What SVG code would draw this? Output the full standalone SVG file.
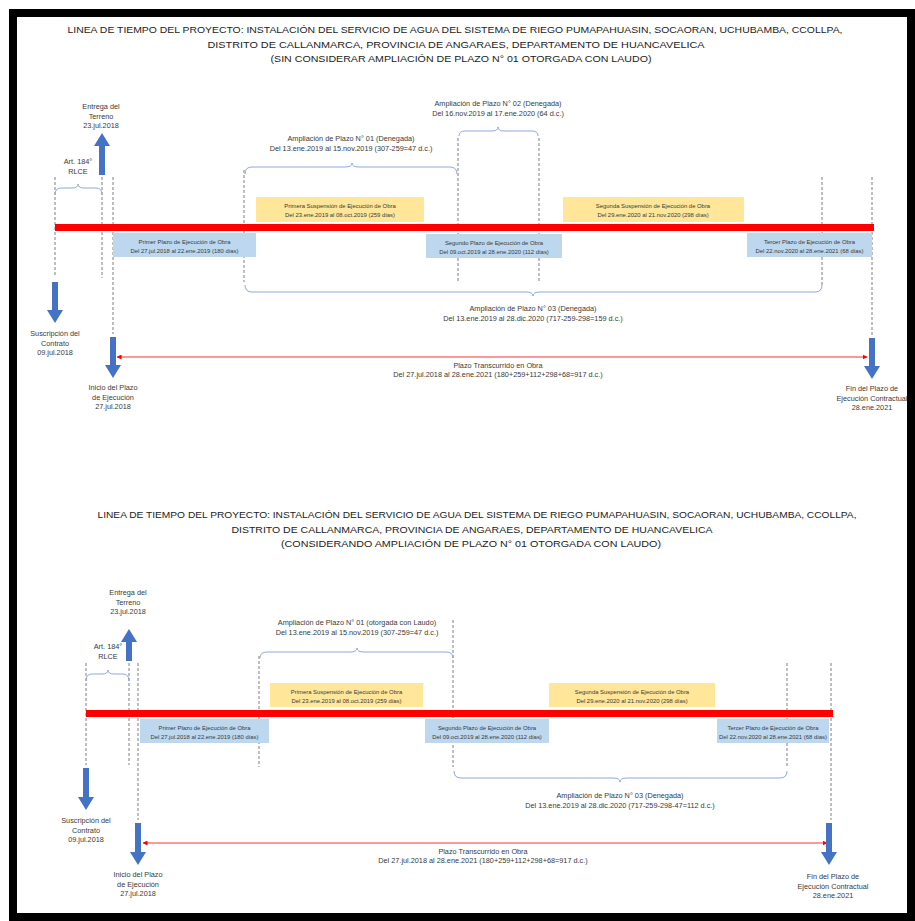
<svg xmlns="http://www.w3.org/2000/svg" width="915" height="921" viewBox="0 0 915 921">
<style>
text{font-family:"Liberation Sans",Arial,sans-serif;fill:#3a3a3a;text-anchor:middle}
.title{font-size:9.6px;fill:#222}
.lbl{font-size:7.3px}
.box{font-size:5.9px}
.dash{stroke:#7f7f7f;stroke-width:1;stroke-dasharray:3,2;fill:none}
.brace{stroke:#8fa9d6;stroke-width:1;fill:none}
.bar{fill:#ff0000}
.blue{fill:#bdd7ee}
.yel{fill:#ffe699}
.arr{fill:#4472c4}
.span{stroke:#ff3030;stroke-width:1;fill:none}
</style>
<defs>
<marker id="ah" viewBox="0 0 10 10" refX="9" refY="5" markerWidth="5" markerHeight="5" orient="auto-start-reverse">
<path d="M0,0 L10,5 L0,10 Z" fill="#ff0000"/>
</marker>
</defs>
<rect x="0" y="0" width="915" height="921" fill="#fff"/>
<rect x="13" y="13" width="898" height="904" fill="none" stroke="#000" stroke-width="8"/>

<!-- ================= PANEL 1 ================= -->
<g id="title1">
<text class="title" x="455" y="33" textLength="775" lengthAdjust="spacingAndGlyphs">LINEA DE TIEMPO DEL PROYECTO: INSTALACIÓN DEL SERVICIO DE AGUA DEL SISTEMA DE RIEGO PUMAPAHUASIN, SOCAORAN, UCHUBAMBA, CCOLLPA,</text>
<text class="title" x="456" y="48" textLength="497" lengthAdjust="spacingAndGlyphs">DISTRITO DE CALLANMARCA, PROVINCIA DE ANGARAES, DEPARTAMENTO DE HUANCAVELICA</text>
<text class="title" x="461" y="62" textLength="381" lengthAdjust="spacingAndGlyphs">(SIN CONSIDERAR AMPLIACIÓN DE PLAZO N° 01 OTORGADA CON LAUDO)</text>
</g>

<g id="connectors1">
<line class="dash" x1="55" y1="177" x2="55" y2="276"/>
<line class="dash" x1="102" y1="177" x2="102" y2="278"/>
<line class="dash" x1="113" y1="177" x2="113" y2="334"/>
<line class="dash" x1="244" y1="170" x2="244" y2="282"/>
<line class="dash" x1="458" y1="138" x2="458" y2="282"/>
<line class="dash" x1="539" y1="138" x2="539" y2="282"/>
<line class="dash" x1="822" y1="177" x2="822" y2="285"/>
<line class="dash" x1="872" y1="177" x2="872" y2="336"/>
<path class="brace" d="M55,195 Q55,188 61,188 L72,188 Q78,188 78,184 Q78,188 84,188 L96,188 Q102,188 102,195"/>
<path class="brace" d="M245,174 Q245,167 252,167 L345,167 Q352,167 352,163 Q352,167 359,167 L450,167 Q457,167 457,174"/>
<path class="brace" d="M459,136 Q459,131 465,131 L492,131 Q498,131 498,127 Q498,131 504,131 L532,131 Q538,131 538,136"/>
<path class="brace" d="M245,285 Q245,292 252,292 L526,292 Q533,292 533,296 Q533,292 540,292 L815,292 Q822,292 822,285"/>
<line class="span" x1="117" y1="357" x2="867" y2="357" marker-start="url(#ah)" marker-end="url(#ah)"/>
</g>

<g id="bar1"><rect class="bar" x="55" y="224" width="819" height="7"/></g>

<g id="primer1">
<rect class="blue" x="113" y="233" width="143" height="24"/>
<text class="box" x="184.5" y="244">Primer Plazo de Ejecución de Obra</text>
<text class="box" x="184.5" y="252.5">Del 27.jul.2018 al 22.ene.2019 (180 días)</text>
</g>
<g id="segundo1">
<rect class="blue" x="426" y="234" width="136" height="24"/>
<text class="box" x="494" y="245">Segundo Plazo de Ejecución de Obra</text>
<text class="box" x="494" y="253.5">Del 09.oct.2019 al 28.ene.2020 (112 días)</text>
</g>
<g id="tercer1">
<rect class="blue" x="747" y="233" width="125" height="24"/>
<text class="box" x="809.5" y="244">Tercer Plazo de Ejecución de Obra</text>
<text class="box" x="809.5" y="252.5">Del 22.nov.2020 al 28.ene.2021 (68 días)</text>
</g>
<g id="susp1a">
<rect class="yel" x="256" y="197" width="168" height="25"/>
<text class="box" x="340" y="208">Primera Suspensión de Ejecución de Obra</text>
<text class="box" x="340" y="216.5">Del 23.ene.2019 al 08.oct.2019 (259 días)</text>
</g>
<g id="susp1b">
<rect class="yel" x="563" y="197" width="181" height="25"/>
<text class="box" x="653" y="208">Segunda Suspensión de Ejecución de Obra</text>
<text class="box" x="653" y="216.5">Del 29.ene.2020 al 21.nov.2020 (298 días)</text>
</g>

<g id="entrega1">
<path class="arr" d="M99,175 V146 H94 L102,133 L110,146 H105 V175 Z"/>
<text class="lbl" x="101" y="109">Entrega del</text>
<text class="lbl" x="101" y="118.5">Terreno</text>
<text class="lbl" x="101" y="128">23.jul.2018</text>
</g>
<g id="art1">
<text class="lbl" x="78" y="164">Art. 184°</text>
<text class="lbl" x="78" y="173.5">RLCE</text>
</g>
<g id="amp01_1">
<text class="lbl" x="351" y="141">Ampliación de Plazo N° 01 (Denegada)</text>
<text class="lbl" x="351" y="151">Del 13.ene.2019 al 15.nov.2019 (307-259=47 d.c.)</text>
</g>
<g id="amp02_1">
<text class="lbl" x="498" y="106">Ampliación de Plazo N° 02 (Denegada)</text>
<text class="lbl" x="498" y="115.5">Del 16.nov.2019 al 17.ene.2020 (64 d.c.)</text>
</g>
<g id="amp03_1">
<text class="lbl" x="533" y="311">Ampliación de Plazo N° 03 (Denegada)</text>
<text class="lbl" x="533" y="321">Del 13.ene.2019 al 28.dic.2020 (717-259-298=159 d.c.)</text>
</g>
<g id="suscripcion1">
<path class="arr" d="M52,282 V310 H47 L55,323 L63,310 H58 V282 Z"/>
<text class="lbl" x="55" y="336">Suscripción del</text>
<text class="lbl" x="55" y="345.5">Contrato</text>
<text class="lbl" x="55" y="355">09.jul.2018</text>
</g>
<g id="inicio1">
<path class="arr" d="M110,337 V365 H105 L113,378 L121,365 H116 V337 Z"/>
<text class="lbl" x="113" y="390">Inicio del Plazo</text>
<text class="lbl" x="113" y="399.5">de Ejecución</text>
<text class="lbl" x="113" y="409">27.jul.2018</text>
</g>
<g id="plazo1">
<text class="lbl" x="498" y="368">Plazo Transcurrido en Obra</text>
<text class="lbl" x="498" y="377">Del 27.jul.2018 al 28.ene.2021 (180+259+112+298+68=917 d.c.)</text>
</g>
<g id="fin1">
<path class="arr" d="M869,338 V366 H864 L872,379 L880,366 H875 V338 Z"/>
<text class="lbl" x="872" y="391">Fin del Plazo de</text>
<text class="lbl" x="872" y="400.5">Ejecución Contractual</text>
<text class="lbl" x="872" y="410">28.ene.2021</text>
</g>

<!-- ================= PANEL 2 ================= -->
<g id="title2">
<text class="title" x="477" y="518" textLength="759" lengthAdjust="spacingAndGlyphs">LINEA DE TIEMPO DEL PROYECTO: INSTALACIÓN DEL SERVICIO DE AGUA DEL SISTEMA DE RIEGO PUMAPAHUASIN, SOCAORAN, UCHUBAMBA, CCOLLPA,</text>
<text class="title" x="472" y="533" textLength="481" lengthAdjust="spacingAndGlyphs">DISTRITO DE CALLANMARCA, PROVINCIA DE ANGARAES, DEPARTAMENTO DE HUANCAVELICA</text>
<text class="title" x="471" y="547" textLength="380" lengthAdjust="spacingAndGlyphs">(CONSIDERANDO AMPLIACIÓN DE PLAZO N° 01 OTORGADA CON LAUDO)</text>
</g>

<g id="connectors2">
<line class="dash" x1="86" y1="663" x2="86" y2="765"/>
<line class="dash" x1="129" y1="663" x2="129" y2="765"/>
<line class="dash" x1="138" y1="663" x2="138" y2="820"/>
<line class="dash" x1="259" y1="656" x2="259" y2="767"/>
<line class="dash" x1="453" y1="620" x2="453" y2="767"/>
<line class="dash" x1="787" y1="663" x2="787" y2="767"/>
<line class="dash" x1="831" y1="663" x2="831" y2="820"/>
<path class="brace" d="M86,681 Q86,674 92,674 L102,674 Q108,674 108,670 Q108,674 114,674 L123,674 Q129,674 129,681"/>
<path class="brace" d="M260,658 Q260,652 267,652 L350,652 Q357,652 357,648 Q357,652 364,652 L446,652 Q453,652 453,658"/>
<path class="brace" d="M454,771 Q454,778 461,778 L613,778 Q620,778 620,782 Q620,778 627,778 L780,778 Q787,778 787,771"/>
<line class="span" x1="143" y1="843" x2="827" y2="843" marker-start="url(#ah)" marker-end="url(#ah)"/>
</g>

<g id="bar2"><rect class="bar" x="86" y="710" width="747" height="7"/></g>

<g id="primer2">
<rect class="blue" x="140" y="719" width="129" height="24"/>
<text class="box" x="204.5" y="730">Primer Plazo de Ejecución de Obra</text>
<text class="box" x="204.5" y="738.5">Del 27.jul.2018 al 22.ene.2019 (180 días)</text>
</g>
<g id="segundo2">
<rect class="blue" x="425" y="719" width="124" height="24"/>
<text class="box" x="487" y="730">Segundo Plazo de Ejecución de Obra</text>
<text class="box" x="487" y="738.5">Del 09.oct.2019 al 28.ene.2020 (112 días)</text>
</g>
<g id="tercer2">
<rect class="blue" x="717" y="719" width="112" height="24"/>
<text class="box" x="773" y="730">Tercer Plazo de Ejecución de Obra</text>
<text class="box" x="773" y="738.5">Del 22.nov.2020 al 28.ene.2021 (68 días)</text>
</g>
<g id="susp2a">
<rect class="yel" x="270" y="683" width="153" height="24"/>
<text class="box" x="346.5" y="694">Primera Suspensión de Ejecución de Obra</text>
<text class="box" x="346.5" y="702.5">Del 23.ene.2019 al 08.oct.2019 (259 días)</text>
</g>
<g id="susp2b">
<rect class="yel" x="549" y="683" width="166" height="24"/>
<text class="box" x="632" y="694">Segunda Suspensión de Ejecución de Obra</text>
<text class="box" x="632" y="702.5">Del 29.ene.2020 al 21.nov.2020 (298 días)</text>
</g>

<g id="entrega2">
<path class="arr" d="M126,661 V642 H121 L129,629 L137,642 H132 V661 Z"/>
<text class="lbl" x="128" y="595">Entrega del</text>
<text class="lbl" x="128" y="604.5">Terreno</text>
<text class="lbl" x="128" y="614">23.jul.2018</text>
</g>
<g id="art2">
<text class="lbl" x="108" y="649">Art. 184°</text>
<text class="lbl" x="108" y="658.5">RLCE</text>
</g>
<g id="amp01_2">
<text class="lbl" x="357" y="625">Ampliación de Plazo N° 01 (otorgada con Laudo)</text>
<text class="lbl" x="357" y="635">Del 13.ene.2019 al 15.nov.2019 (307-259=47 d.c.)</text>
</g>
<g id="amp03_2">
<text class="lbl" x="620" y="798">Ampliación de Plazo N° 03 (Denegada)</text>
<text class="lbl" x="620" y="808">Del 13.ene.2019 al 28.dic.2020 (717-259-298-47=112 d.c.)</text>
</g>
<g id="suscripcion2">
<path class="arr" d="M83,768 V797 H78 L86,810 L94,797 H89 V768 Z"/>
<text class="lbl" x="86" y="823">Suscripción del</text>
<text class="lbl" x="86" y="832.5">Contrato</text>
<text class="lbl" x="86" y="842">09.jul.2018</text>
</g>
<g id="inicio2">
<path class="arr" d="M135,823 V852 H130 L138,865 L146,852 H141 V823 Z"/>
<text class="lbl" x="138" y="877">Inicio del Plazo</text>
<text class="lbl" x="138" y="886.5">de Ejecución</text>
<text class="lbl" x="138" y="896">27.jul.2018</text>
</g>
<g id="plazo2">
<text class="lbl" x="483" y="854">Plazo Transcurrido en Obra</text>
<text class="lbl" x="483" y="863">Del 27.jul.2018 al 28.ene.2021 (180+259+112+298+68=917 d.c.)</text>
</g>
<g id="fin2">
<path class="arr" d="M826,823 V852 H821 L829,865 L837,852 H832 V823 Z"/>
<text class="lbl" x="833" y="879">Fin del Plazo de</text>
<text class="lbl" x="833" y="888.5">Ejecución Contractual</text>
<text class="lbl" x="833" y="898">28.ene.2021</text>
</g>
</svg>
